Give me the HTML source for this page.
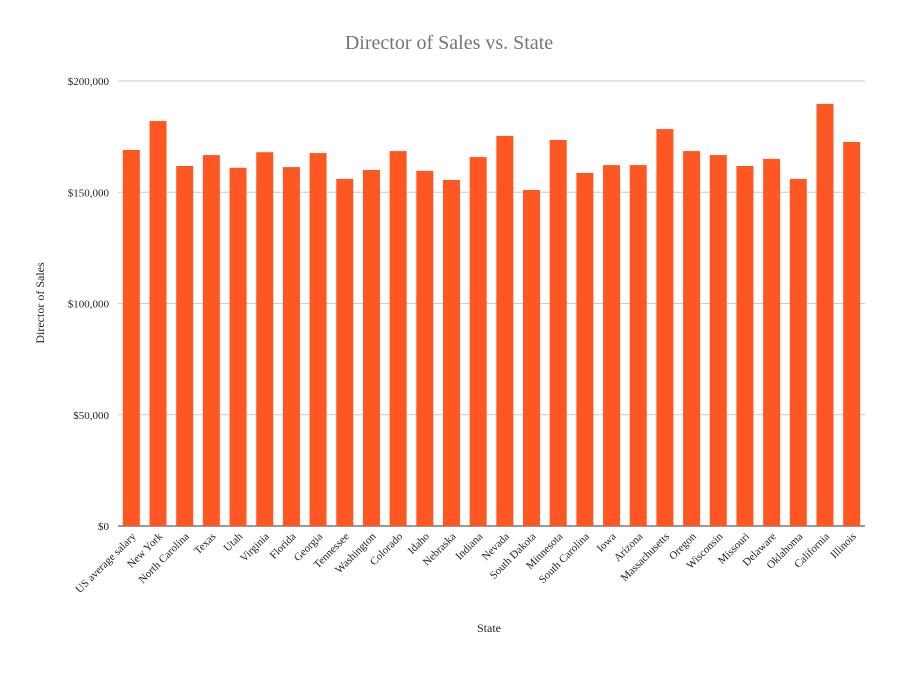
<!DOCTYPE html>
<html><head><meta charset="utf-8"><style>
body{margin:0;background:#fff}
svg text{font-family:"Liberation Serif",serif}
</style></head><body>
<svg id="chart" width="899" height="668" xmlns="http://www.w3.org/2000/svg">
<rect width="899" height="668" fill="#fff"/>
<text x="449" y="49" text-anchor="middle" font-size="20" fill="#757575">Director of Sales vs. State</text>
<text transform="translate(44,303) rotate(-90)" text-anchor="middle" font-size="12" fill="#222">Director of Sales</text>
<text x="489" y="632" text-anchor="middle" font-size="12" fill="#222">State</text>
<g id="grid"></g><g id="bars"></g><g id="xlabels"></g>
</svg>
<script>
const categories=["US average salary","New York","North Carolina","Texas","Utah","Virginia","Florida","Georgia","Tennessee","Washington","Colorado","Idaho","Nebraska","Indiana","Nevada","South Dakota","Minnesota","South Carolina","Iowa","Arizona","Massachusetts","Oregon","Wisconsin","Missouri","Delaware","Oklahoma","California","Illinois"];
const values=[169000,182000,161800,166700,161000,168000,161300,167600,156000,160000,168500,159600,155500,165800,175300,151000,173500,158700,162200,162200,178400,168500,166700,161800,165000,156000,189700,172600];
const yTicks=[0,50000,100000,150000,200000];
const yTickLabels=["$0","$50,000","$100,000","$150,000","$200,000"];
const NS="http://www.w3.org/2000/svg";
const x0=118,x1=865,y0=526,y1=81;
const yScale=v=>y0-(v/200000)*(y0-y1);
const step=(x1-x0)/categories.length;
const xScale=i=>x0+step*(i+0.5);
const bw=17;
const grid=document.getElementById('grid');
yTicks.forEach((t,i)=>{
 const l=document.createElementNS(NS,'line');
 
 
 l.setAttribute('x1',x0);l.setAttribute('x2',x1);
 l.setAttribute('y1',yScale(t));l.setAttribute('y2',yScale(t));
 l.setAttribute('stroke',t===0?'#333':'#ccc');l.setAttribute('stroke-width','1');
 grid.appendChild(l);
 const tx=document.createElementNS(NS,'text');
 
 
 tx.setAttribute('x',109);tx.setAttribute('y',yScale(t)+4);
 tx.setAttribute('text-anchor','end');tx.setAttribute('font-size','11');tx.setAttribute('fill','#222');
 tx.textContent=yTickLabels[i];grid.appendChild(tx);
});
const bars=document.getElementById('bars'),xl=document.getElementById('xlabels');
categories.forEach((c,i)=>{
 const r=document.createElementNS(NS,'rect');
 
 
 r.setAttribute('x',xScale(i)-bw/2);r.setAttribute('width',bw);
 r.setAttribute('y',yScale(values[i]));r.setAttribute('height',y0-yScale(values[i]));
 r.setAttribute('fill','#ff5722');
 bars.appendChild(r);
 const t=document.createElementNS(NS,'text');
 
 
 t.setAttribute('transform','translate('+(xScale(i)+5)+',537) rotate(-45)');
 t.setAttribute('text-anchor','end');t.setAttribute('font-size','11');t.setAttribute('fill','#222');
 t.textContent=c;xl.appendChild(t);
});
</script>
</body></html>
